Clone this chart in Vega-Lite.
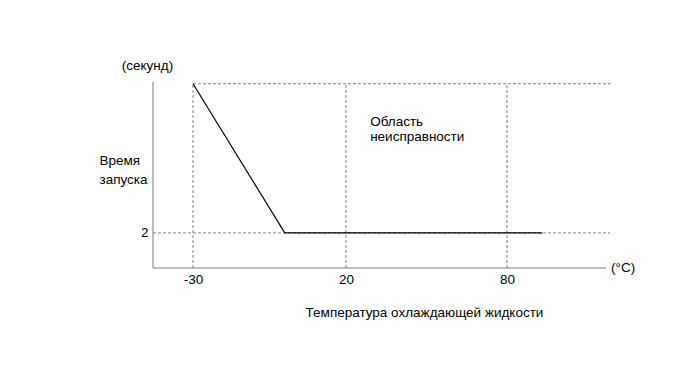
{
  "$schema": "https://vega.github.io/schema/vega-lite/v6.json",
  "width": 457,
  "height": 186,
  "autosize": "none",
  "padding": {"left": 153, "top": 82, "right": 80, "bottom": 101},
  "background": "white",
  "config": {
    "view": {"stroke": null},
    "font": "Liberation Sans",
    "axis": {
      "grid": false,
      "domain": false,
      "ticks": false,
      "labelFont": "Liberation Sans",
      "labelFontSize": 13.5,
      "labelColor": "#000000",
      "titleFont": "Liberation Sans",
      "titleFontSize": 13.5,
      "titleFontWeight": "normal",
      "titleColor": "#000000"
    }
  },
  "datasets": {
    "vgrid": [
      {"t": -30, "lo": 0, "hi": 10.5},
      {"t": 20, "lo": 0, "hi": 10.5},
      {"t": 80, "lo": 0, "hi": 10.5}
    ],
    "hgrid": [
      {"s": 2, "t1": -43, "t2": 118},
      {"s": 10.5, "t1": -30, "t2": 118.3}
    ],
    "xaxisline": [{"s": 0, "t1": -43, "t2": 116.6}],
    "yaxisline": [{"t": -43, "s1": 0, "s2": 10.6}],
    "curve": [
      {"t": -30, "s": 10.5},
      {"t": 0, "s": 2},
      {"t": 93, "s": 2}
    ],
    "centerText": [{"t": -44.8, "s": 11.5, "label": "(секунд)"}],
    "middleText": [{"t": 118.4, "s": 0, "label": "(°C)"}],
    "leftText": [
      {"t": 29, "s": 8.72, "label": "Область\nнеисправности"}
    ]
  },
  "layer": [
    {
      "data": {"name": "vgrid"},
      "mark": {"type": "rule", "color": "#808080", "strokeDash": [3, 2], "strokeWidth": 1},
      "encoding": {
        "x": {
          "field": "t",
          "type": "quantitative",
          "scale": {"domain": [-43, -30, 20, 80, 118], "range": [0, 40, 193, 354, 457], "nice": false, "zero": false},
          "axis": {
            "values": [-30, 20, 80],
            "labelExpr": "datum.value + ''",
            "labelPadding": 4,
            "title": "Температура охлаждающей жидкости",
            "titleX": 271,
            "titleY": 44,
            "titleAlign": "center",
            "titleBaseline": "middle"
          }
        },
        "y": {
          "field": "lo",
          "type": "quantitative",
          "scale": {"domain": [0, 10.6], "nice": false, "zero": false},
          "axis": {
            "values": [2],
            "labelPadding": 5,
            "title": ["Время", "запуска"],
            "titleAngle": 0,
            "titleAlign": "left",
            "titleBaseline": "top",
            "titleX": -54,
            "titleY": 71,
            "titleLineHeight": 19
          }
        },
        "y2": {"field": "hi"}
      }
    },
    {
      "data": {"name": "hgrid"},
      "mark": {"type": "rule", "color": "#808080", "strokeDash": [3, 2], "strokeWidth": 1},
      "encoding": {
        "y": {"field": "s", "type": "quantitative"},
        "x": {"field": "t1", "type": "quantitative"},
        "x2": {"field": "t2"}
      }
    },
    {
      "data": {"name": "xaxisline"},
      "mark": {"type": "rule", "color": "#7a7a7a", "strokeWidth": 1},
      "encoding": {
        "y": {"field": "s", "type": "quantitative"},
        "x": {"field": "t1", "type": "quantitative"},
        "x2": {"field": "t2"}
      }
    },
    {
      "data": {"name": "yaxisline"},
      "mark": {"type": "rule", "color": "#7a7a7a", "strokeWidth": 1},
      "encoding": {
        "x": {"field": "t", "type": "quantitative"},
        "y": {"field": "s1", "type": "quantitative"},
        "y2": {"field": "s2"}
      }
    },
    {
      "data": {"name": "curve"},
      "mark": {"type": "line", "color": "#000000", "strokeWidth": 1.2},
      "encoding": {
        "x": {"field": "t", "type": "quantitative"},
        "y": {"field": "s", "type": "quantitative"}
      }
    },
    {
      "data": {"name": "centerText"},
      "mark": {"type": "text", "align": "center", "baseline": "middle", "fontSize": 13.5, "color": "#000000"},
      "encoding": {
        "x": {"field": "t", "type": "quantitative"},
        "y": {"field": "s", "type": "quantitative"},
        "text": {"field": "label"}
      }
    },
    {
      "data": {"name": "middleText"},
      "mark": {"type": "text", "align": "left", "baseline": "middle", "fontSize": 13.5, "color": "#000000"},
      "encoding": {
        "x": {"field": "t", "type": "quantitative"},
        "y": {"field": "s", "type": "quantitative"},
        "text": {"field": "label"}
      }
    },
    {
      "data": {"name": "leftText"},
      "mark": {"type": "text", "align": "left", "baseline": "top", "fontSize": 13.5, "color": "#000000", "lineBreak": "\n", "lineHeight": 15},
      "encoding": {
        "x": {"field": "t", "type": "quantitative"},
        "y": {"field": "s", "type": "quantitative"},
        "text": {"field": "label"}
      }
    }
  ]
}
